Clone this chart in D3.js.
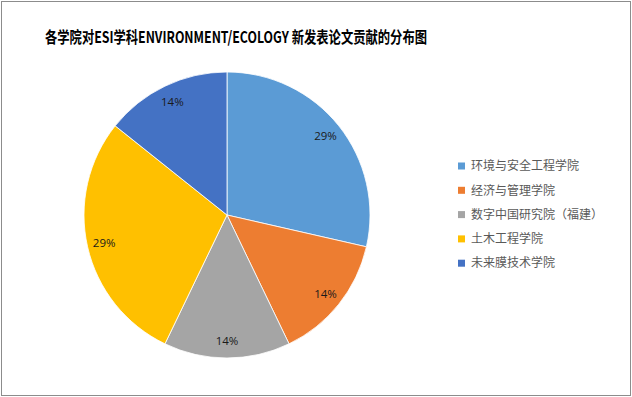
<!DOCTYPE html>
<html>
<head>
<meta charset="utf-8">
<script src="https://cdn.jsdelivr.net/npm/d3@7"></script>
<style>
  body { margin: 0; background: #fff; }
</style>
</head>
<body>
<div id="chart-area"></div>
<script>
// Data
var titleText = '各学院对ESI学科ENVIRONMENT/ECOLOGY 新发表论文贡献的分布图';
var categories = ['环境与安全工程学院', '经济与管理学院', '数字中国研究院（福建）', '土木工程学院', '未来膜技术学院'];
var values = [2, 1, 1, 2, 1];
var colors = ['#5B9BD5', '#ED7D31', '#A5A5A5', '#FFC000', '#4472C4'];

var width = 632, height = 397;

// Setup SVG
var svg = d3.select('#chart-area').append('svg')
  .attr('width', width)
  .attr('height', height);

// Chart border
svg.append('rect')
  .attr('x', 1.5).attr('y', 1.5)
  .attr('width', width - 3).attr('height', height - 3)
  .attr('fill', '#fff')
  .attr('stroke', '#8c8c8c')
  .attr('stroke-width', 1);

// Title
svg.append('text')
  .attr('x', 45)
  .attr('y', 43)
  .text(titleText)
  .attr('textLength', 382)
  .attr('lengthAdjust', 'spacingAndGlyphs')
  .style('font-family', '"Noto Sans CJK SC", sans-serif')
  .style('font-weight', 'bold')
  .style('font-size', '16px')
  .style('fill', '#000');

var color = d3.scaleOrdinal().domain(categories).range(colors);

// Pie
var pieChartContainer = svg.append('g').attr('transform', 'translate(227, 215)');

var pie = d3.pie().value(function (d) { return d.value; }).sort(null);
var pieData = pie(categories.map(function (c, i) { return { name: c, value: values[i] }; }));
var total = d3.sum(values);

var arc = d3.arc().innerRadius(0).outerRadius(143);
var labelArc = d3.arc().innerRadius(126).outerRadius(126);

var arcs = pieChartContainer.selectAll('.arc')
  .data(pieData)
  .enter()
  .append('g')
  .attr('class', 'arc');

arcs.append('path')
  .attr('d', arc)
  .attr('fill', function (d) { return color(d.data.name); })
  .attr('stroke', '#fff')
  .attr('stroke-width', 0.8);

arcs.append('text')
  .attr('transform', function (d) { return 'translate(' + labelArc.centroid(d) + ')'; })
  .attr('dy', '0.35em')
  .text(function (d) { return d3.format('.0%')(d.data.value / total); })
  .style('text-anchor', 'middle')
  .style('font-family', '"Open Sans", "Noto Sans", sans-serif')
  .style('font-size', '11.5px')
  .style('fill', '#1a1a1a');

// Legend
var legend = svg.append('g').attr('transform', 'translate(458, 166)');

var legendItems = legend.selectAll('.legendItem')
  .data(categories)
  .enter()
  .append('g')
  .attr('class', 'legendItem')
  .attr('transform', function (d, i) { return 'translate(0,' + (i * 24.3) + ')'; });

legendItems.append('rect')
  .attr('x', 0)
  .attr('y', -3.5)
  .attr('width', 7)
  .attr('height', 7)
  .attr('fill', function (d) { return color(d); });

legendItems.append('text')
  .attr('x', 13)
  .attr('y', 0)
  .attr('dy', '0.35em')
  .text(function (d) { return d; })
  .style('font-family', '"Noto Sans CJK SC", sans-serif')
  .style('font-size', '12px')
  .style('fill', '#595959');
</script>
</body>
</html>
